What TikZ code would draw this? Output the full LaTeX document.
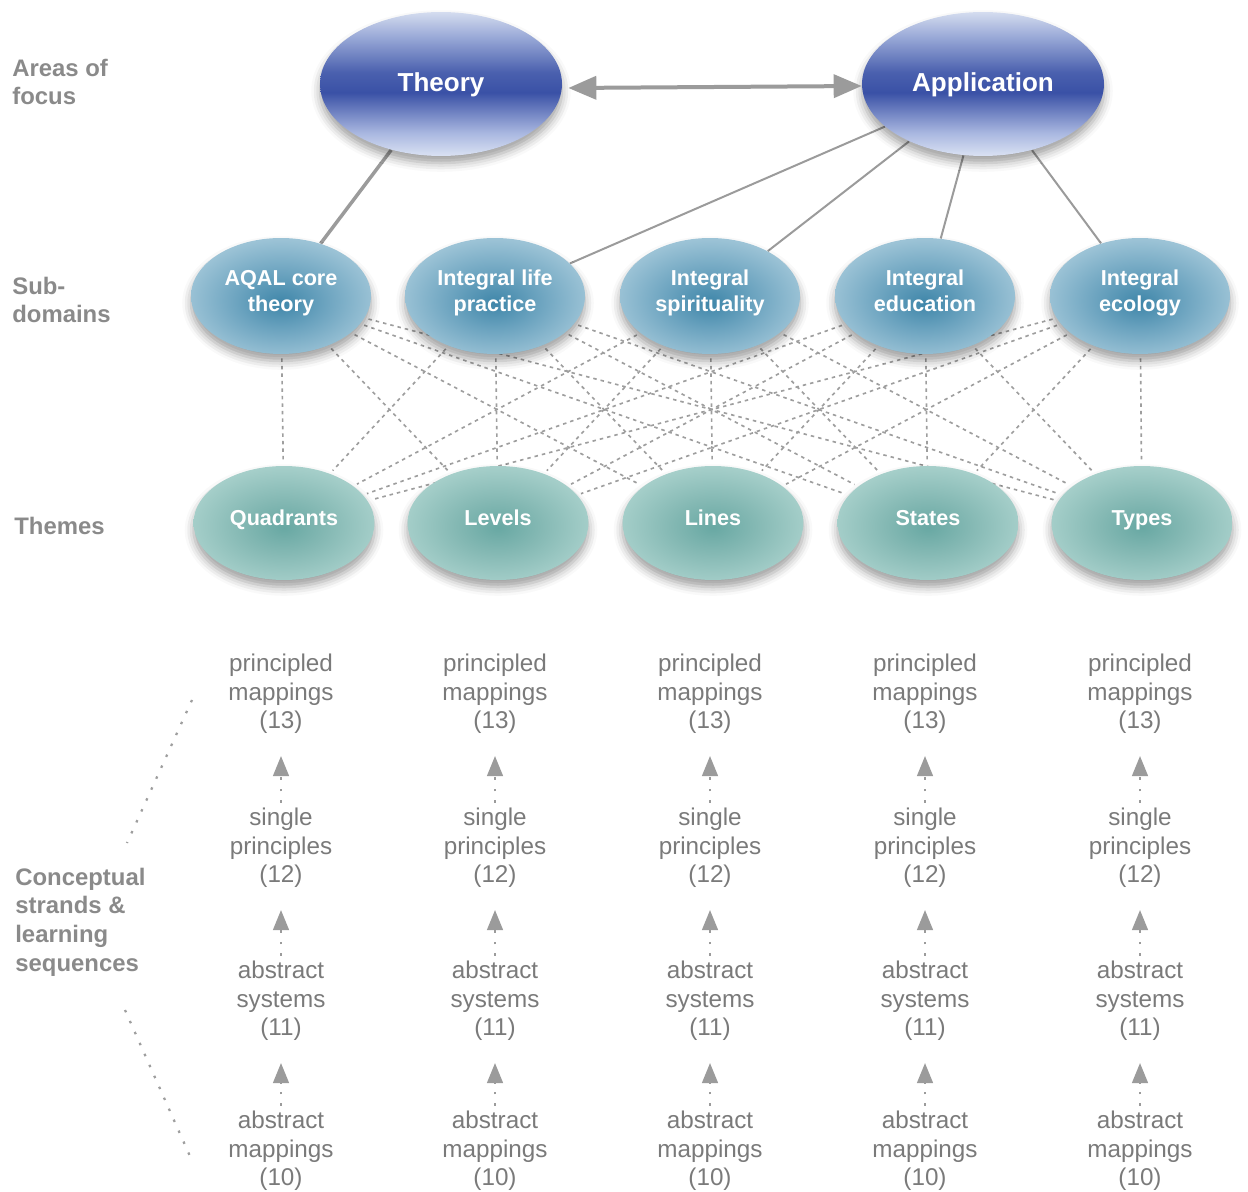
\documentclass[tikz,border=0pt]{standalone}
\usepackage{fontspec}
\setmainfont{Liberation Sans}
\usetikzlibrary{shapes.geometric,arrows.meta,shadows.blur}
\definecolor{blT}{HTML}{D4DCEF}
\definecolor{blL}{HTML}{A9B7E0}
\definecolor{blD}{HTML}{3A51A6}
\definecolor{blD2}{HTML}{4A60AE}
\definecolor{blM}{HTML}{97A7D6}
\definecolor{blB}{HTML}{DAE2F3}
\definecolor{sdC}{HTML}{3F86A9}
\definecolor{sdM}{HTML}{6BA3BF}
\definecolor{sdO}{HTML}{9CC3D6}
\definecolor{thC}{HTML}{68A8A3}
\definecolor{thM}{HTML}{85B9B4}
\definecolor{thO}{HTML}{A6CFCA}
\definecolor{linegray}{HTML}{9B9B9B}
\definecolor{dashgray}{HTML}{9E9E9E}
\definecolor{labgray}{HTML}{8A8A8A}
\definecolor{seqgray}{HTML}{7A7A7A}
\pgfdeclareverticalshading{bluebar}{100bp}{color(0bp)=(blB); color(25bp)=(blB); color(33bp)=(blL); color(47bp)=(blD); color(54bp)=(blD2); color(66bp)=(blM); color(75bp)=(blT); color(100bp)=(blT)}
\pgfdeclareradialshading{subsh}{\pgfpoint{0bp}{-3bp}}{color(0bp)=(sdC); color(12bp)=(sdM); color(26bp)=(sdO); color(50bp)=(sdO)}
\pgfdeclareradialshading{themesh}{\pgfpoint{0bp}{-2bp}}{color(0bp)=(thC); color(12bp)=(thM); color(26bp)=(thO); color(50bp)=(thO)}
\pgfdeclarelayer{bg}
\pgfsetlayers{bg,main}
\newcommand{\sdstrut}{\rule[-6pt]{0pt}{1pt}}
\begin{document}
\begin{tikzpicture}[x=0.02cm,y=-0.02cm,
  shadowed/.style={blur shadow={shadow xshift=0pt,shadow yshift=-4pt,shadow blur radius=5pt,shadow opacity=38}},
  areanode/.style={ellipse,inner sep=0pt,minimum width=4.84cm,minimum height=2.88cm,shading=bluebar,shadowed,
    text=white,text height=12.5pt,text depth=3.7pt,font=\fontsize{14.8}{17}\selectfont\bfseries},
  subnode/.style={ellipse,inner sep=0pt,minimum width=3.6cm,minimum height=2.32cm,shading=subsh,shadowed,
    text=white,align=center,font=\fontsize{12.3}{14.8}\selectfont\bfseries},
  themenode/.style={ellipse,inner sep=0pt,minimum width=3.62cm,minimum height=2.28cm,shading=themesh,shadowed,
    text=white,text height=9pt,text depth=5.8pt,font=\fontsize{12.3}{14.8}\selectfont\bfseries},
  rowlabel/.style={anchor=west,align=left,inner sep=0pt,text=labgray,font=\fontsize{13.6}{16.3}\selectfont\bfseries},
  seqtext/.style={align=center,inner sep=0pt,text=seqgray,font=\fontsize{13.8}{16.2}\selectfont},
  biarrow/.style={draw=linegray,line width=0.08cm,{Triangle[length=0.56cm,width=0.46cm]}-{Triangle[length=0.56cm,width=0.46cm]}},
  thickconn/.style={draw=linegray,line width=0.07cm},
  conn/.style={draw=linegray,line width=0.04cm},
  dline/.style={draw=dashgray,line width=0.033cm,dash pattern=on 0.07cm off 0.08cm,shorten <=0.08cm,shorten >=0.08cm},
  seqarrow/.style={draw=linegray,line width=0.03cm,dash pattern=on 0.05cm off 0.18cm,
    -{Triangle[length=0.4cm,width=0.32cm]},shorten >=0.44cm,shorten <=0.1cm},
  sidedots/.style={draw=dashgray,line width=0.045cm,dash pattern=on 0.05cm off 0.19cm}]
\useasboundingbox (0,0) rectangle (1248,1192);

% row labels
\node[rowlabel] (lab1) at (12,82) {Areas of\\focus};
\node[rowlabel] (lab2) at (12,300) {Sub-\\domains};
\node[rowlabel] (lab3) at (14,526) {Themes};
\node[rowlabel] (lab4) at (15,922) {Conceptual\\strands \&\\learning\\sequences};

% areas of focus
\node[areanode] (theory) at (441,84) {Theory};
\node[areanode] (app) at (983,84) {Application};

% sub-domains
\node[subnode] (sd1) at (281,296) {AQAL core\\theory\sdstrut};
\node[subnode] (sd2) at (495,296) {Integral life\\practice\sdstrut};
\node[subnode] (sd3) at (710,296) {Integral\\spirituality\sdstrut};
\node[subnode] (sd4) at (925,296) {Integral\\education\sdstrut};
\node[subnode] (sd5) at (1140,296) {Integral\\ecology\sdstrut};

% themes
\node[themenode] (th1) at (284,523) {Quadrants};
\node[themenode] (th2) at (498,523) {Levels};
\node[themenode] (th3) at (713,523) {Lines};
\node[themenode] (th4) at (928,523) {States};
\node[themenode] (th5) at (1142,523) {Types};

% connectors
\begin{pgfonlayer}{bg}
\draw[thickconn] (theory) -- (sd1);
\draw[conn] (app) -- (sd2);
\draw[conn] (app) -- (sd3);
\draw[conn] (app) -- (sd4);
\draw[conn] (app) -- (sd5);
\foreach \i in {1,...,5}{
  \foreach \j in {1,...,5}{
    \draw[dline] (sd\i) -- (th\j);
  }
}
\end{pgfonlayer}
\draw[biarrow] ([shift={(6,4)}]theory.east) -- ([shift={(0,2)}]app.west);

% conceptual strands
\foreach \x [count=\i] in {281,495,710,925,1140}{
  \node[seqtext] (pm\i) at (\x,694) {principled\\mappings\\(13)};
  \node[seqtext] (sp\i) at (\x,848) {single\\principles\\(12)};
  \node[seqtext] (as\i) at (\x,1001) {abstract\\systems\\(11)};
  \node[seqtext] (am\i) at (\x,1151) {abstract\\mappings\\(10)};
  \draw[seqarrow] (sp\i.north) -- (pm\i.south);
  \draw[seqarrow] (as\i.north) -- (sp\i.south);
  \draw[seqarrow] (am\i.north) -- (as\i.south);
}

% side dotted lines
\coordinate (cs1a) at (192,700);
\coordinate (cs1b) at (127,843);
\coordinate (cs2a) at (125,1010);
\coordinate (cs2b) at (193,1163);
\draw[sidedots] (cs1a) -- (cs1b);
\draw[sidedots] (cs2a) -- (cs2b);
\end{tikzpicture}
\end{document}
